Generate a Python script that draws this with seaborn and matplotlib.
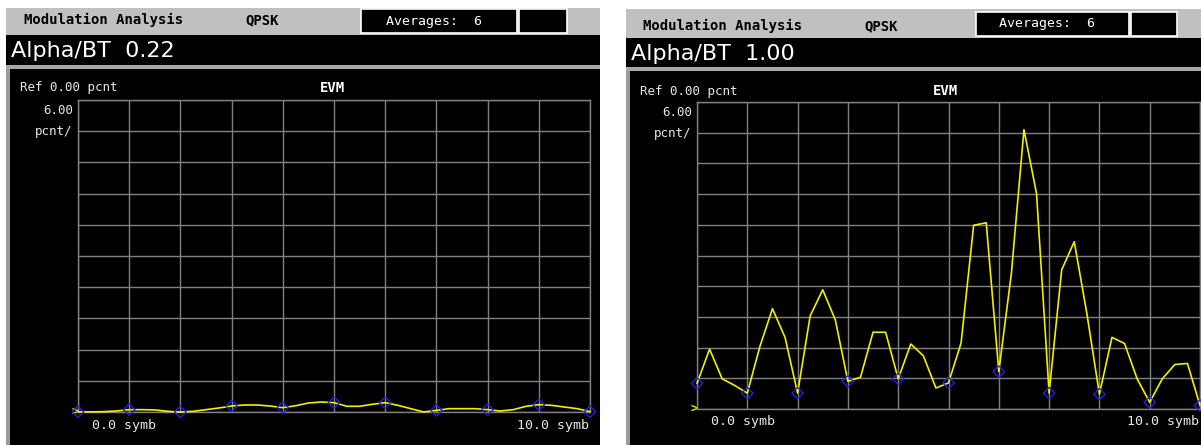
import matplotlib
matplotlib.use("Agg")
import matplotlib.pyplot as plt
from matplotlib.patches import Rectangle
import seaborn as sns

# EVM trace, sampled every quarter symbol (values in pcnt, 6 pcnt per division)
symb_pos = [0.0, 0.25, 0.5, 0.75, 1.0, 1.25, 1.5, 1.75, 2.0, 2.25, 2.5, 2.75,
            3.0, 3.25, 3.5, 3.75, 4.0, 4.25, 4.5, 4.75, 5.0, 5.25, 5.5, 5.75,
            6.0, 6.25, 6.5, 6.75, 7.0, 7.25, 7.5, 7.75, 8.0, 8.25, 8.5, 8.75,
            9.0, 9.25, 9.5, 9.75, 10.0]
evm_alpha_022 = [0.05, 0.03, 0.06, 0.2, 0.45, 0.45, 0.4, 0.13, 0.0, 0.13,
                 0.45, 0.77, 1.15, 1.35, 1.35, 1.15, 0.83, 1.2, 1.73, 1.92,
                 1.8, 1.1, 1.1, 1.48, 1.8, 1.28, 0.64, 0.0, 0.32, 0.64,
                 0.64, 0.64, 0.45, 0.19, 0.45, 1.09, 1.41, 1.28, 0.96, 0.64,
                 0.07]
evm_alpha_100 = [5.0, 11.7, 5.9, 4.6, 3.1, 12.2, 19.6, 14.0, 3.1, 18.2,
                 23.3, 17.4, 5.4, 6.2, 15.0, 15.0, 5.9, 12.7, 10.4, 4.1,
                 5.1, 12.9, 35.9, 36.4, 7.3, 26.5, 54.6, 42.1, 3.1, 27.2,
                 32.7, 18.7, 2.9, 14.0, 12.8, 5.9, 1.3, 5.9, 8.7, 8.9,
                 0.7]

alpha_labels = ["Alpha/BT  0.22", "Alpha/BT  1.00"]
header_label = "Modulation Analysis"
format_label = "QPSK"
averages_label = "Averages:  6"
ref_label = "Ref 0.00 pcnt"
trace_label = "EVM"
scale_labels = ["6.00", "pcnt/"]
x_labels = ["0.0 symb", "10.0 symb"]

W, H = 1201, 445
HDR_GRAY = "#c0c0c0"
GRID_GRAY = "#808080"
TRACE_YELLOW = "#f0f000"
MARK_BLUE = "#2222e0"
MONO = "DejaVu Sans Mono"

sns.set_style("dark")

fig = plt.figure(figsize=(W / 100, H / 100), dpi=100)
fig.patch.set_facecolor("white")

# pixel canvas for the instrument screen furniture
bg = fig.add_axes([0, 0, 1, 1])
bg.set_xlim(0, W)
bg.set_ylim(H, 0)
bg.axis("off")


def rect(x0, y0, x1, y1, fc, ec="none", lw=0):
    bg.add_patch(Rectangle((x0, y0), x1 - x0, y1 - y0, facecolor=fc,
                           edgecolor=ec, linewidth=lw))


def draw_panel(p, values):
    # p holds the pixel layout of one screenshot
    x0, x1 = p["x0"], p["x1"]
    rect(x0, p["hdr"][0], x1, p["hdr"][1], HDR_GRAY)
    bg.text(p["mod_x"], p["hdr_ty"], header_label, family=MONO, weight="bold",
            fontsize=10, color="black", va="center")
    bg.text(p["fmt_x"], p["hdr_ty"], format_label, family=MONO, weight="bold",
            fontsize=10, color="black", va="center")
    bx = p["avg_box"]
    rect(bx[0], bx[2], bx[1], bx[3], "black", ec="white", lw=1.2)
    rect(bx[1] + 1.5, bx[2], p["small_box"], bx[3], "black", ec="white", lw=1.2)
    bg.text(p["avg_tx"], (bx[2] + bx[3]) / 2, averages_label, family=MONO,
            fontsize=9.5, color="white", va="center")

    # big black title bar
    rect(x0, p["bar"][0], x1, p["bar"][1], "black")
    bg.text(x0 + 5, (p["bar"][0] + p["bar"][1]) / 2 + 1, p["alpha"],
            family="DejaVu Sans", fontsize=16, color="white", va="center")
    rect(x0, p["bar"][1], x1, p["bar"][1] + 3.5, "#a8a8a8")

    # trace window
    rect(x0, p["bar"][1] + 3.5, x1, H + 1, "black")
    rect(x0, p["bar"][1] + 3.5, x0 + 4, H + 1, "#9a9a9a")
    bg.text(x0 + 14, p["ref_y"], ref_label, family=MONO, fontsize=9,
            color="#e8e8e8", va="center")
    bg.text(p["evm_x"], p["ref_y"], trace_label, family=MONO, weight="bold",
            fontsize=10, color="white", va="center")
    gx0, gy0, gx1, gy1 = p["grid"]
    bg.text(gx0 - 5, gy0 + 10, scale_labels[0], family=MONO, fontsize=9,
            color="#e8e8e8", va="center", ha="right")
    bg.text(gx0 - 6, gy0 + 31, scale_labels[1], family=MONO, fontsize=9,
            color="#e8e8e8", va="center", ha="right")
    bg.text(gx0 + 14, gy1 + 13, x_labels[0], family=MONO, fontsize=9.5,
            color="#e8e8e8", va="center")
    bg.text(gx1 - 1, gy1 + 13, x_labels[1], family=MONO, fontsize=9.5,
            color="#e8e8e8", va="center", ha="right")
    bg.text(gx0 + 1, gy1 - 1, ">", family=MONO, weight="bold", fontsize=9,
            color=TRACE_YELLOW, va="center", ha="right")

    ax = fig.add_axes([gx0 / W, 1 - gy1 / H, (gx1 - gx0) / W, (gy1 - gy0) / H])
    ax.set_facecolor("black")
    ax.set_xlim(0, 10)
    ax.set_ylim(0, 60)
    ax.set_xticks(range(0, 11))
    ax.set_yticks(range(0, 61, 6))
    ax.tick_params(length=0, labelbottom=False, labelleft=False)
    ax.grid(True, color=GRID_GRAY, linewidth=1.0)
    for s in ax.spines.values():
        s.set_visible(True)
        s.set_color(GRID_GRAY)
        s.set_linewidth(1.0)

    sns.lineplot(x=symb_pos, y=values, ax=ax, color=TRACE_YELLOW,
                 linewidth=1.2, clip_on=False, zorder=3)
    sc = sns.scatterplot(x=symb_pos[::4], y=values[::4], ax=ax, marker="D",
                         s=34, color=MARK_BLUE, facecolor="none",
                         edgecolor=MARK_BLUE, linewidth=1.0, zorder=4,
                         clip_on=False)
    sc.collections[-1].set_facecolor("none")
    ax.set_xlabel("")
    ax.set_ylabel("")
    return ax


left = dict(x0=6, x1=600, hdr=(8, 35), hdr_ty=20, mod_x=24, fmt_x=245,
            avg_box=(361, 517, 9, 33), small_box=567, avg_tx=386,
            bar=(35, 65), alpha=alpha_labels[0], ref_y=88, evm_x=320,
            grid=(78, 100, 590, 412))
right = dict(x0=626, x1=1203, hdr=(9, 38), hdr_ty=26, mod_x=643, fmt_x=864,
             avg_box=(976, 1129, 12, 36), small_box=1177, avg_tx=999,
             bar=(38, 67), alpha=alpha_labels[1], ref_y=91, evm_x=933,
             grid=(697, 102, 1200, 409))

draw_panel(left, evm_alpha_022)
draw_panel(right, evm_alpha_100)

fig.savefig("out.png", dpi=100, facecolor="white")
